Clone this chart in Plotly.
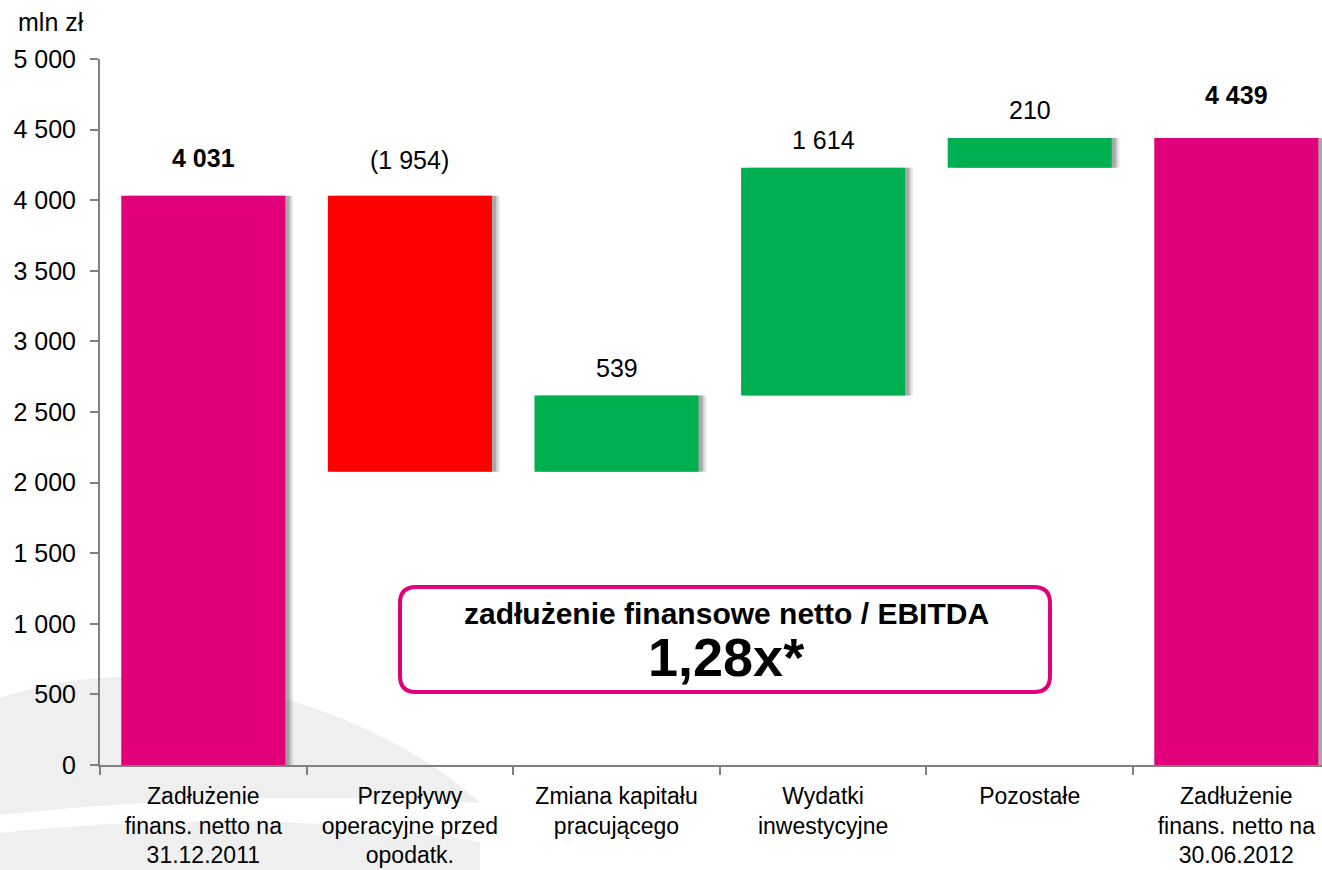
import plotly.graph_objects as go

# data
categories = ["Zadłużenie<br>finans. netto na<br>31.12.2011",
              "Przepływy<br>operacyjne przed<br>opodatk.",
              "Zmiana kapitału<br>pracującego",
              "Wydatki<br>inwestycyjne",
              "Pozostałe",
              "Zadłużenie<br>finans. netto na<br>30.06.2012"]
values = [4031, -1954, 539, 1614, 210, 4439]
measures = ["absolute", "relative", "relative", "relative", "relative", "total"]
labels = ["4 031", "(1 954)", "539", "1 614", "210", "4 439"]
y_ticks = [0, 500, 1000, 1500, 2000, 2500, 3000, 3500, 4000, 4500, 5000]
ratio_title = "zadłużenie finansowe netto / EBITDA"
ratio_value = "1,28x*"

MAGENTA = "#E2007A"
GREEN = "#00B050"
RED = "#FF0000"
FONT = "Liberation Sans, Arial, sans-serif"

W, H = 1322, 870
L, R, T, B = 100, 0, 59, 105
PW, PH = W - L - R, H - T - B
CAT_PX = 206.6
BAR_W = 0.794


def px(x):
    return (x - L) / PW


def py(y):
    return (H - B - y) / PH


x_idx = list(range(len(categories)))

fig = go.Figure()

# soft shadows behind the bars
for shift, alpha in [(8, 0.08), (6, 0.12), (4, 0.18)]:
    fig.add_trace(go.Waterfall(
        x=x_idx, y=values, measure=measures,
        width=BAR_W, offset=-BAR_W / 2 + shift / CAT_PX,
        increasing=dict(marker=dict(color=f"rgba(0,0,0,{alpha})")),
        decreasing=dict(marker=dict(color=f"rgba(0,0,0,{alpha})")),
        totals=dict(marker=dict(color=f"rgba(0,0,0,{alpha})")),
        connector=dict(visible=False), hoverinfo="skip", showlegend=False,
    ))

fig.add_trace(go.Waterfall(
    x=x_idx, y=values, measure=measures,
    width=BAR_W, offset=-BAR_W / 2,
    increasing=dict(marker=dict(color=GREEN)),
    decreasing=dict(marker=dict(color=RED)),
    totals=dict(marker=dict(color=MAGENTA)),
    connector=dict(visible=False), showlegend=False,
))

# value labels above each bar
run = 0
for i, (v, m, lab) in enumerate(zip(values, measures, labels)):
    if m == "absolute":
        run = v
        top, shift, bold = v, 38, True
    elif m == "total":
        top, shift, bold = run, 43, True
    else:
        start = run
        run += v
        top = max(start, run)
        shift = 36 if v < 0 else 28
        bold = False
    fig.add_annotation(x=i, y=top, yshift=shift, text=f"<b>{lab}</b>" if bold else lab,
                       showarrow=False, xref="x", yref="y", yanchor="middle",
                       font=dict(size=25, color="black", family=FONT))

# background swoosh
upper = (f"M {px(0)},{py(698)} C {px(170)},{py(640)} {px(380)},{py(710)} {px(480)},{py(803)} "
         f"C {px(330)},{py(793)} {px(160)},{py(798)} {px(0)},{py(815)} Z")
lower = (f"M {px(0)},{py(833)} C {px(160)},{py(816)} {px(330)},{py(816)} {px(480)},{py(842)} "
         f"L {px(480)},{py(872)} L {px(0)},{py(872)} Z")
for p in (upper, lower):
    fig.add_shape(type="path", path=p, xref="paper", yref="paper", layer="below",
                  fillcolor="#EFEFEF", line=dict(width=0))

# rounded box with the ratio
x0, x1, y0, y1, r = 400, 1050, 587, 692, 16
rx, ry = r / PW, r / PH
bx0, bx1, by0, by1 = px(x0), px(x1), py(y1), py(y0)
box = (f"M {bx0 + rx},{by1} L {bx1 - rx},{by1} Q {bx1},{by1} {bx1},{by1 - ry} "
       f"L {bx1},{by0 + ry} Q {bx1},{by0} {bx1 - rx},{by0} "
       f"L {bx0 + rx},{by0} Q {bx0},{by0} {bx0},{by0 + ry} "
       f"L {bx0},{by1 - ry} Q {bx0},{by1} {bx0 + rx},{by1} Z")
fig.add_shape(type="path", path=box, xref="paper", yref="paper",
              fillcolor="white", line=dict(color=MAGENTA, width=4))
fig.add_annotation(x=px(726), y=py(613), xref="paper", yref="paper", showarrow=False,
                   xanchor="center", yanchor="middle",
                   text=f"<b>{ratio_title}</b>", font=dict(size=30, color="black", family=FONT))
fig.add_annotation(x=px(726), y=py(657), xref="paper", yref="paper", showarrow=False,
                   xanchor="center", yanchor="middle",
                   text=f"<b>{ratio_value}</b>", font=dict(size=54, color="black", family=FONT))

fig.add_annotation(x=px(51), y=py(22), xref="paper", yref="paper", showarrow=False,
                   xanchor="center", yanchor="middle",
                   text="mln zł", font=dict(size=25, color="black", family=FONT))

fig.update_layout(
    width=W, height=H,
    margin=dict(l=L, r=R, t=T, b=B),
    plot_bgcolor="rgba(0,0,0,0)", paper_bgcolor="white",
    waterfallmode="overlay",
    font=dict(family=FONT, size=24, color="black"),
    xaxis=dict(
        type="category", tickmode="array", tickvals=x_idx, ticktext=categories,
        tickson="boundaries", ticks="outside", ticklen=8, tickcolor="#808080", tickwidth=2,
        showline=True, linecolor="#808080", linewidth=2, automargin=False,
        showgrid=False, range=[-0.5, -0.5 + PW / CAT_PX], ticklabelstandoff=9,
        tickfont=dict(size=23, family=FONT), fixedrange=True,
    ),
    yaxis=dict(
        range=[0, 5000], tickmode="array", tickvals=y_ticks,
        ticktext=[f"{v:,}".replace(",", " ") for v in y_ticks],
        ticks="outside", ticklen=8, tickcolor="#808080", tickwidth=2,
        showline=True, linecolor="#808080", linewidth=2, automargin=False,
        showgrid=False, zeroline=False, ticklabelstandoff=9,
        tickfont=dict(size=25, family=FONT), fixedrange=True,
    ),
)

fig.write_html("out.html", config={"displayModeBar": False},
               post_script="document.body.style.margin='0';")
